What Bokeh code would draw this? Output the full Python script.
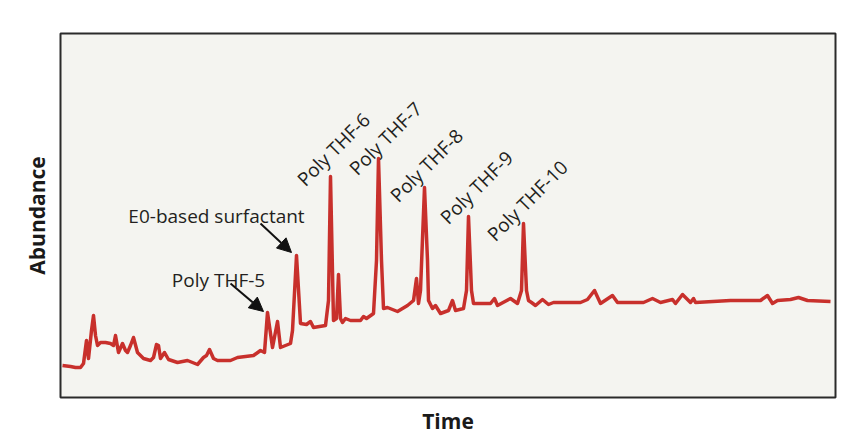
from bokeh.plotting import figure
from bokeh.models import Label, Arrow, NormalHead, Range1d, ColumnDataSource
from bokeh.embed import file_html
from bokeh.resources import INLINE

# Chromatogram trace (arbitrary time units / arbitrary abundance units)
time = [
    2, 10, 15, 20, 23, 26, 28, 31, 33, 35,
    37, 40, 45, 50, 53, 55, 58, 62, 65, 67,
    70, 73, 77, 83, 90, 93, 96, 98, 100, 104,
    108, 117, 127, 137, 143, 146, 149, 153, 157, 170,
    177, 193, 200, 204, 207, 212, 217, 220, 230, 232,
    236, 240, 246, 250, 253, 265, 268, 270, 273, 276,
    278, 280, 282, 285, 290, 300, 303, 306, 313, 316,
    318, 321, 323, 327, 337, 347, 353, 356, 358, 360,
    364, 367, 368, 372, 375, 380, 388, 392, 395, 403,
    406, 408, 411, 413, 430, 434, 437, 450, 457, 461,
    463, 466, 468, 471, 475, 482, 488, 493, 520, 527,
    534, 540, 552, 557, 583, 592, 600, 612, 615, 622,
    630, 633, 635, 670, 700, 707, 712, 717, 730, 738,
    747, 770,
]
abundance = [
    43, 42, 41, 41, 45, 68, 50, 78, 93, 73,
    63, 66, 66, 65, 63, 73, 56, 65, 58, 56,
    63, 71, 56, 50, 48, 51, 64, 63, 50, 56,
    49, 46, 48, 44, 51, 53, 59, 50, 48, 48,
    51, 53, 58, 56, 96, 61, 87, 61, 65, 78,
    153, 85, 84, 87, 81, 83, 108, 232, 88, 90,
    134, 90, 86, 90, 88, 88, 92, 90, 95, 148,
    250, 148, 100, 101, 97, 103, 108, 130, 105, 118,
    221, 148, 108, 100, 103, 95, 98, 108, 98, 100,
    118, 192, 118, 105, 105, 110, 103, 110, 105, 118,
    185, 118, 108, 106, 103, 109, 104, 106, 106, 109,
    118, 105, 113, 106, 106, 110, 106, 109, 105, 114,
    106, 110, 106, 108, 108, 113, 105, 108, 109, 111,
    108, 107,
]

# Peak annotations
rot_labels = ["Poly THF-6", "Poly THF-7", "Poly THF-8", "Poly THF-9", "Poly THF-10"]
rot_x = [240, 292, 333, 383, 430]
rot_y = [226, 237, 210, 188, 171]

flat_labels = ["Poly THF-5", "E0-based surfactant"]
flat_x = [158, 156]
flat_y = [129, 193]
arrow_start_x = [170, 200]
arrow_start_y = [125, 185]
arrow_end_x = [203, 231]
arrow_end_y = [97, 156]

p = figure(width=856, height=438, output_backend="svg", toolbar_location=None,
           x_range=Range1d(0, 775), y_range=Range1d(11, 375),
           min_border_left=60, min_border_right=21, min_border_top=33, min_border_bottom=41)

p.background_fill_color = "#f4f4f0"
p.border_fill_color = "white"
p.outline_line_color = "#2a2a2a"
p.outline_line_width = 2
p.grid.visible = False

for ax in (p.xaxis[0], p.yaxis[0]):
    ax.ticker = []
    ax.major_tick_line_color = None
    ax.minor_tick_line_color = None
    ax.axis_line_color = None
    ax.axis_label_text_font = "Open Sans"
    ax.axis_label_text_font_style = "bold"
    ax.axis_label_text_font_size = "21px"
    ax.axis_label_text_color = "#1a1a1a"

p.xaxis.axis_label = "Time"
p.yaxis.axis_label = "Abundance"
p.xaxis.axis_label_standoff = 9
p.yaxis.axis_label_standoff = 10

src = ColumnDataSource(dict(t=time, a=abundance))
p.line("t", "a", source=src, line_color="#c8302c", line_width=3.5, line_join="round")

for txt, x, y in zip(rot_labels, rot_x, rot_y):
    p.add_layout(Label(x=x, y=y, text=txt, angle=45, angle_units="deg",
                       text_align="left", text_baseline="alphabetic",
                       text_font="Open Sans", text_font_size="19px", text_color="#231f20"))

for txt, x, y in zip(flat_labels, flat_x, flat_y):
    p.add_layout(Label(x=x, y=y, text=txt, text_align="center", text_baseline="alphabetic",
                       text_font="Open Sans", text_font_size="19px", text_color="#231f20"))

for x0, y0, x1, y1 in zip(arrow_start_x, arrow_start_y, arrow_end_x, arrow_end_y):
    p.add_layout(Arrow(end=NormalHead(size=14, fill_color="#111111", line_color="#111111"),
                       x_start=x0, y_start=y0, x_end=x1, y_end=y1,
                       line_color="#111111", line_width=2))

open("out.html", "w").write(file_html(p, INLINE))
